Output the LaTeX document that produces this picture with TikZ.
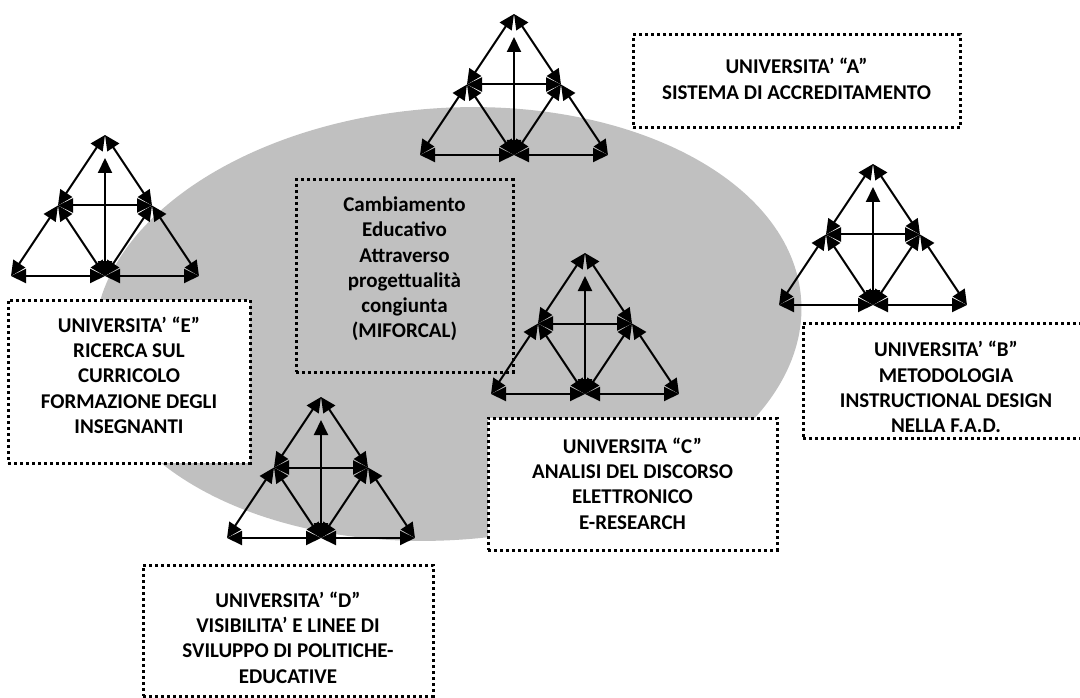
\documentclass[tikz,border=0pt]{standalone}
\usepackage{fontspec}
\setmainfont{Carlito}
\usetikzlibrary{positioning, arrows.meta}

\definecolor{silverfill}{RGB}{192,192,192}

\begin{document}
\begin{tikzpicture}[
  x=1pt, y=-1pt,
  link/.style={{Triangle[length=15pt,width=14pt]}-{Triangle[length=15pt,width=14pt]},
               line width=2pt},
  ubox/.style={draw, line width=3pt, dash pattern=on 3pt off 3pt, fill=white,
               inner sep=0pt},
  cbox/.style={ubox, fill=none},
  utext/.style={font=\bfseries\fontsize{21}{25.3}\selectfont, align=center,
                inner sep=0pt, anchor=north},
  activity/.pic={
    % corners and mid points of one activity triangle
    \coordinate (-top) at (0,0);
    \coordinate (-bl) at (-94,141);
    \coordinate (-bm) at (0,141);
    \coordinate (-br) at (94,141);
    \coordinate (-ml) at (-47,70.5);
    \coordinate (-mr) at (47,70.5);
    \coordinate (-tip) at (0,23);
    % outer sides
    \draw[link] (-bl) -- (-ml);
    \draw[link] (-ml) -- (-top);
    \draw[link] (-top) -- (-mr);
    \draw[link] (-mr) -- (-br);
    \draw[link] (-bl) -- (-bm);
    \draw[link] (-bm) -- (-br);
    % inner lines
    \draw[link] (-ml) -- (-mr);
    \draw[link] (-ml) -- (-bm);
    \draw[link] (-mr) -- (-bm);
    \draw[link] (-bm) -- (-tip);
  },
]

\useasboundingbox (0,0) rectangle (1080,698);
\clip (0,0) rectangle (1080,698);
\fill[white] (0,0) rectangle (1080,698);

% --- shared area ---
\fill[silverfill, rotate around={4:(448,324)}] (448,324) ellipse [x radius=354, y radius=216];

% --- boxes ---
\node[ubox, minimum width=327pt, minimum height=93pt] (boxA) at (796.5,81.5) {};
\node[ubox, minimum width=286pt, minimum height=115pt] (boxB) at (946,380.5) {};
\node[ubox, minimum width=289pt, minimum height=132pt] (boxC) at (632.5,484) {};
\node[ubox, minimum width=290pt, minimum height=131pt] (boxD) at (288,630.5) {};
\node[ubox, minimum width=242pt, minimum height=163pt] (boxE) at (129,381.5) {};
\node[cbox, minimum width=217pt, minimum height=192pt] (boxM) at (404.5,276) {};

% --- texts ---
\node[utext] (txtA) at ([yshift=-24.5pt]boxA.north)
  {UNIVERSITA’ “A”\\SISTEMA DI ACCREDITAMENTO};
\node[utext] (txtB) at ([yshift=-19.5pt]boxB.north)
  {UNIVERSITA’ “B”\\METODOLOGIA\\INSTRUCTIONAL DESIGN\\NELLA F.A.D.};
\node[utext] (txtC) at ([yshift=-21pt]boxC.north)
  {UNIVERSITA “C”\\ANALISI DEL DISCORSO\\ELETTRONICO\\E-RESEARCH};
\node[utext] (txtD) at ([yshift=-28pt]boxD.north)
  {UNIVERSITA’ “D”\\VISIBILITA’ E LINEE DI\\SVILUPPO DI POLITICHE-\\EDUCATIVE};
\node[utext] (txtE) at ([yshift=-18pt]boxE.north)
  {UNIVERSITA’ “E”\\RICERCA SUL\\CURRICOLO\\FORMAZIONE DEGLI\\INSEGNANTI};
\node[utext] (txtM) at ([yshift=-18pt]boxM.north)
  {Cambiamento\\Educativo\\Attraverso\\progettualità\\congiunta\\(MIFORCAL)};

% --- activity triangles ---
\pic (triA) at (514,14) {activity};
\pic (triB) at (873,164) {activity};
\pic (triC) at (585,253) {activity};
\pic (triD) at (321,397) {activity};
\pic (triE) at (105,135) {activity};

\end{tikzpicture}
\end{document}
